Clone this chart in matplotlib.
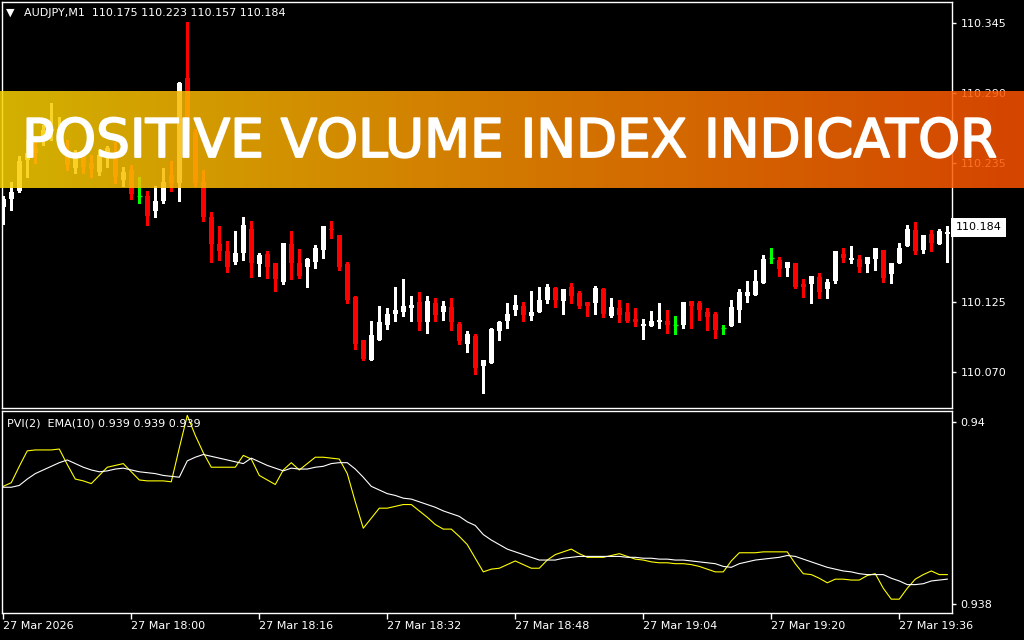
import numpy as np
import matplotlib
matplotlib.use("Agg")
import matplotlib.pyplot as plt
import matplotlib.patheffects as pe
from matplotlib.colors import LinearSegmentedColormap

# AUDJPY M1 candles, 27 Mar 17:44 .. 19:42
opens = [110.200, 110.206, 110.213, 110.237, 110.247, 110.255, 110.260, 110.257, 110.245, 110.231,
         110.240, 110.235, 110.228, 110.239, 110.240, 110.221, 110.229, 110.209, 110.209, 110.197,
         110.205, 110.225, 110.219, 110.302, 110.259, 110.220, 110.192, 110.171, 110.165, 110.157,
         110.164, 110.183, 110.155, 110.163, 110.156, 110.141, 110.171, 110.156, 110.153, 110.157,
         110.166, 110.183, 110.178, 110.155, 110.129, 110.095, 110.079, 110.095, 110.107, 110.116,
         110.117, 110.120, 110.125, 110.109, 110.124, 110.117, 110.121, 110.108, 110.092, 110.098,
         110.075, 110.077, 110.102, 110.110, 110.119, 110.122, 110.114, 110.117, 110.127, 110.136,
         110.126, 110.137, 110.132, 110.125, 110.124, 110.135, 110.114, 110.120, 110.117, 110.112,
         110.106, 110.106, 110.109, 110.110, 110.107, 110.107, 110.126, 110.124, 110.117, 110.116,
         110.105, 110.106, 110.119, 110.130, 110.131, 110.140, 110.160, 110.158, 110.152, 110.156,
         110.139, 110.139, 110.145, 110.135, 110.142, 110.163, 110.158, 110.159, 110.155, 110.159,
         110.166, 110.147, 110.156, 110.169, 110.182, 110.166, 110.179, 110.171, 110.179]
highs = [110.209, 110.220, 110.240, 110.253, 110.251, 110.265, 110.282, 110.271, 110.253, 110.245,
         110.243, 110.241, 110.245, 110.248, 110.251, 110.232, 110.233, 110.224, 110.213, 110.217,
         110.231, 110.236, 110.299, 110.346, 110.262, 110.229, 110.196, 110.185, 110.173, 110.181,
         110.192, 110.189, 110.164, 110.165, 110.156, 110.172, 110.181, 110.167, 110.160, 110.170,
         110.185, 110.189, 110.178, 110.157, 110.130, 110.095, 110.110, 110.122, 110.120, 110.137,
         110.143, 110.130, 110.133, 110.130, 110.128, 110.126, 110.128, 110.109, 110.102, 110.100,
         110.079, 110.105, 110.110, 110.124, 110.131, 110.125, 110.134, 110.137, 110.139, 110.137,
         110.135, 110.140, 110.134, 110.125, 110.138, 110.136, 110.128, 110.127, 110.124, 110.120,
         110.112, 110.118, 110.124, 110.119, 110.114, 110.125, 110.126, 110.126, 110.120, 110.117,
         110.107, 110.127, 110.135, 110.142, 110.150, 110.162, 110.168, 110.161, 110.157, 110.156,
         110.143, 110.146, 110.148, 110.143, 110.165, 110.168, 110.169, 110.162, 110.161, 110.168,
         110.166, 110.156, 110.172, 110.186, 110.188, 110.178, 110.182, 110.183, 110.185]
lows = [110.187, 110.198, 110.212, 110.224, 110.235, 110.249, 110.253, 110.253, 110.229, 110.227,
        110.227, 110.224, 110.225, 110.232, 110.219, 110.217, 110.206, 110.203, 110.186, 110.192,
        110.203, 110.213, 110.205, 110.257, 110.217, 110.189, 110.157, 110.158, 110.149, 110.155,
        110.158, 110.145, 110.146, 110.144, 110.134, 110.139, 110.143, 110.144, 110.137, 110.152,
        110.160, 110.176, 110.150, 110.124, 110.088, 110.079, 110.079, 110.095, 110.104, 110.110,
        110.114, 110.110, 110.103, 110.101, 110.110, 110.111, 110.103, 110.092, 110.086, 110.068,
        110.053, 110.077, 110.095, 110.105, 110.115, 110.110, 110.111, 110.117, 110.124, 110.121,
        110.116, 110.124, 110.120, 110.114, 110.116, 110.113, 110.113, 110.109, 110.109, 110.106,
        110.096, 110.106, 110.105, 110.101, 110.100, 110.105, 110.105, 110.111, 110.103, 110.097,
        110.100, 110.106, 110.109, 110.125, 110.131, 110.140, 110.156, 110.146, 110.146, 110.136,
        110.129, 110.124, 110.128, 110.128, 110.140, 110.157, 110.156, 110.149, 110.149, 110.150,
        110.141, 110.140, 110.156, 110.169, 110.163, 110.164, 110.165, 110.171, 110.157]
closes = [110.206, 110.212, 110.236, 110.243, 110.243, 110.261, 110.262, 110.262, 110.233, 110.239,
          110.232, 110.230, 110.241, 110.247, 110.224, 110.228, 110.210, 110.209, 110.193, 110.205,
          110.220, 110.219, 110.298, 110.261, 110.219, 110.192, 110.171, 110.165, 110.153, 110.164,
          110.186, 110.156, 110.162, 110.153, 110.143, 110.172, 110.156, 110.146, 110.159, 110.168,
          110.185, 110.182, 110.153, 110.127, 110.092, 110.080, 110.099, 110.109, 110.116, 110.119,
          110.122, 110.123, 110.109, 110.126, 110.115, 110.122, 110.109, 110.094, 110.100, 110.073,
          110.079, 110.104, 110.109, 110.116, 110.123, 110.115, 110.117, 110.127, 110.137, 110.127,
          110.135, 110.130, 110.122, 110.122, 110.136, 110.116, 110.121, 110.115, 110.110, 110.109,
          110.108, 110.110, 110.111, 110.107, 110.107, 110.125, 110.122, 110.119, 110.113, 110.103,
          110.105, 110.121, 110.133, 110.133, 110.142, 110.159, 110.160, 110.151, 110.157, 110.137,
          110.137, 110.146, 110.133, 110.141, 110.165, 110.160, 110.160, 110.153, 110.161, 110.168,
          110.144, 110.156, 110.168, 110.183, 110.165, 110.178, 110.172, 110.181, 110.180]

# Positive Volume Index (2) and its EMA(10)
pvi = [0.93929, 0.93933, 0.93951, 0.93968, 0.93969, 0.93969, 0.93969, 0.93970, 0.93953, 0.93937,
       0.93935, 0.93932, 0.93941, 0.93950, 0.93952, 0.93954, 0.93945, 0.93936, 0.93935, 0.93935,
       0.93935, 0.93934, 0.93971, 0.94007, 0.93985, 0.93966, 0.93950, 0.93950, 0.93950, 0.93950,
       0.93963, 0.93959, 0.93941, 0.93936, 0.93931, 0.93947, 0.93955, 0.93947, 0.93954, 0.93961,
       0.93961, 0.93960, 0.93959, 0.93943, 0.93912, 0.93883, 0.93894, 0.93905, 0.93905, 0.93907,
       0.93909, 0.93909, 0.93902, 0.93895, 0.93887, 0.93882, 0.93882, 0.93874, 0.93865, 0.93850,
       0.93835, 0.93838, 0.93839, 0.93843, 0.93847, 0.93843, 0.93839, 0.93839, 0.93848, 0.93854,
       0.93857, 0.93860, 0.93855, 0.93851, 0.93851, 0.93851, 0.93853, 0.93855, 0.93852, 0.93849,
       0.93848, 0.93846, 0.93845, 0.93845, 0.93844, 0.93844, 0.93843, 0.93841, 0.93838, 0.93835,
       0.93835, 0.93847, 0.93856, 0.93856, 0.93856, 0.93857, 0.93857, 0.93857, 0.93857, 0.93844,
       0.93833, 0.93832, 0.93828, 0.93823, 0.93827, 0.93827, 0.93826, 0.93826, 0.93831, 0.93833,
       0.93817, 0.93805, 0.93805, 0.93817, 0.93827, 0.93832, 0.93836, 0.93832, 0.93832]
pvi_ema = [0.93928, 0.93928, 0.93930, 0.93937, 0.93943, 0.93947, 0.93951, 0.93955, 0.93958, 0.93954,
           0.93950, 0.93947, 0.93945, 0.93946, 0.93948, 0.93949, 0.93947, 0.93945, 0.93944, 0.93943,
           0.93941, 0.93940, 0.93939, 0.93957, 0.93961, 0.93964, 0.93962, 0.93960, 0.93958, 0.93956,
           0.93954, 0.93960, 0.93956, 0.93952, 0.93949, 0.93946, 0.93949, 0.93948, 0.93948, 0.93950,
           0.93951, 0.93954, 0.93955, 0.93955, 0.93948, 0.93939, 0.93929, 0.93925, 0.93921, 0.93919,
           0.93916, 0.93915, 0.93912, 0.93909, 0.93906, 0.93902, 0.93899, 0.93896, 0.93890, 0.93886,
           0.93876, 0.93870, 0.93865, 0.93860, 0.93857, 0.93854, 0.93851, 0.93848, 0.93848, 0.93848,
           0.93850, 0.93851, 0.93852, 0.93852, 0.93852, 0.93852, 0.93852, 0.93852, 0.93851, 0.93851,
           0.93850, 0.93850, 0.93849, 0.93849, 0.93848, 0.93848, 0.93847, 0.93846, 0.93845, 0.93844,
           0.93841, 0.93840, 0.93844, 0.93846, 0.93848, 0.93849, 0.93850, 0.93851, 0.93853, 0.93852,
           0.93849, 0.93846, 0.93843, 0.93840, 0.93838, 0.93836, 0.93835, 0.93833, 0.93832, 0.93832,
           0.93832, 0.93828, 0.93825, 0.93821, 0.93821, 0.93822, 0.93825, 0.93826, 0.93827]

time_ticks = [0, 16, 32, 48, 64, 80, 96, 112]
time_labels = ["27 Mar 2026", "27 Mar 18:00", "27 Mar 18:16", "27 Mar 18:32",
               "27 Mar 18:48", "27 Mar 19:04", "27 Mar 19:20", "27 Mar 19:36"]
price_ticks = [110.345, 110.290, 110.235, 110.180, 110.125, 110.070]
pvi_ticks = [0.938, 0.94]
last_price = 110.184
header = "AUDJPY,M1  110.175 110.223 110.157 110.184"
pvi_header = "PVI(2)  EMA(10) 0.939 0.939 0.939"
banner_title = "POSITIVE VOLUME INDEX INDICATOR"

W, H = 1024, 640
fig = plt.figure(figsize=(W / 100, H / 100), dpi=100, facecolor="black")

def px_axes(x0, y0, x1, y1):
    # pixel box (top-left origin) -> figure axes
    return fig.add_axes([x0 / W, 1 - y1 / H, (x1 - x0) / W, (y1 - y0) / H])

ax = px_axes(2, 2, 952, 408)
ax2 = px_axes(2, 411, 952, 613)

for a in (ax, ax2):
    a.set_facecolor("black")
    for s in a.spines.values():
        s.set_color("white")
        s.set_linewidth(1)
    a.yaxis.tick_right()
    a.tick_params(axis="y", colors="white", length=3, width=1, labelsize=8, pad=3)
    a.set_xlim(-0.16, 118.59)

# ---- candles
x = np.arange(len(opens))
o = np.array(opens); h = np.array(highs); l = np.array(lows); c = np.array(closes)
col = np.where(c > o, "white", np.where(c < o, "#ff0000", "#00ff00"))
ax.vlines(x, l, h, colors=col, linewidth=0.9, antialiased=False)
body = np.maximum(np.abs(c - o), 0.0008)
doji = c == o
ax.bar(x[~doji], body[~doji], bottom=np.minimum(o, c)[~doji], width=0.62,
       color=col[~doji], linewidth=0, antialiased=False)
ax.hlines(o[doji], x[doji] - 0.31, x[doji] + 0.31, colors="#00ff00", linewidth=0.9)

ax.set_ylim(110.0415, 110.3618)
ax.set_yticks(price_ticks)
ax.set_yticklabels([f"{p:.3f}" for p in price_ticks])
ax.set_xticks([])

ax.text(1.004, last_price, f"{last_price:.3f}", transform=ax.get_yaxis_transform(),
        color="black", fontsize=8, va="center", ha="left", zorder=10,
        bbox=dict(boxstyle="square,pad=0.4", fc="white", ec="none"))

fig.text(6 / W, 1 - 13 / H, "\u25bc", color="white", fontsize=8, va="center")
fig.text(24 / W, 1 - 13 / H, header, color="white", fontsize=8, va="center")

# ---- indicator pane
ax2.plot(x, pvi, color="#ffff00", linewidth=0.8)
ax2.plot(x, pvi_ema, color="white", linewidth=0.8)
ax2.set_ylim(0.937898, 0.940118)
ax2.set_yticks(pvi_ticks)
ax2.set_yticklabels(["0.938", "0.94"])
ax2.set_xticks(time_ticks)
ax2.set_xticklabels(time_labels, ha="left")
ax2.tick_params(axis="x", colors="white", length=4, width=1, labelsize=8, pad=2)
fig.text(7 / W, 1 - 424 / H, pvi_header, color="white", fontsize=8, va="center")

# ---- banner
bax = px_axes(0, 91, W, 188)
bax.set_zorder(5)
grad = LinearSegmentedColormap.from_list("banner", ["#fad200", "#f98f00", "#fd5200"])
bax.imshow(np.linspace(0, 1, 256).reshape(1, -1), cmap=grad, aspect="auto",
           alpha=0.85, extent=[0, 1, 0, 1])
bax.set_xlim(0, 1); bax.set_ylim(0, 1)
bax.axis("off")
title = fig.text(510 / W, 1 - 157 / H, banner_title, color="white", fontsize=36,
                 fontfamily="DejaVu Sans", ha="center", va="baseline", zorder=6,
                 path_effects=[pe.withStroke(linewidth=1.3, foreground="white")])
# stretch the title to the banner width seen in the chart (x 23..997)
fig.canvas.draw()
w = title.get_window_extent().width
title.set_fontsize(36 * 974 / w)

fig.savefig("out.png", dpi=100, facecolor="black")
